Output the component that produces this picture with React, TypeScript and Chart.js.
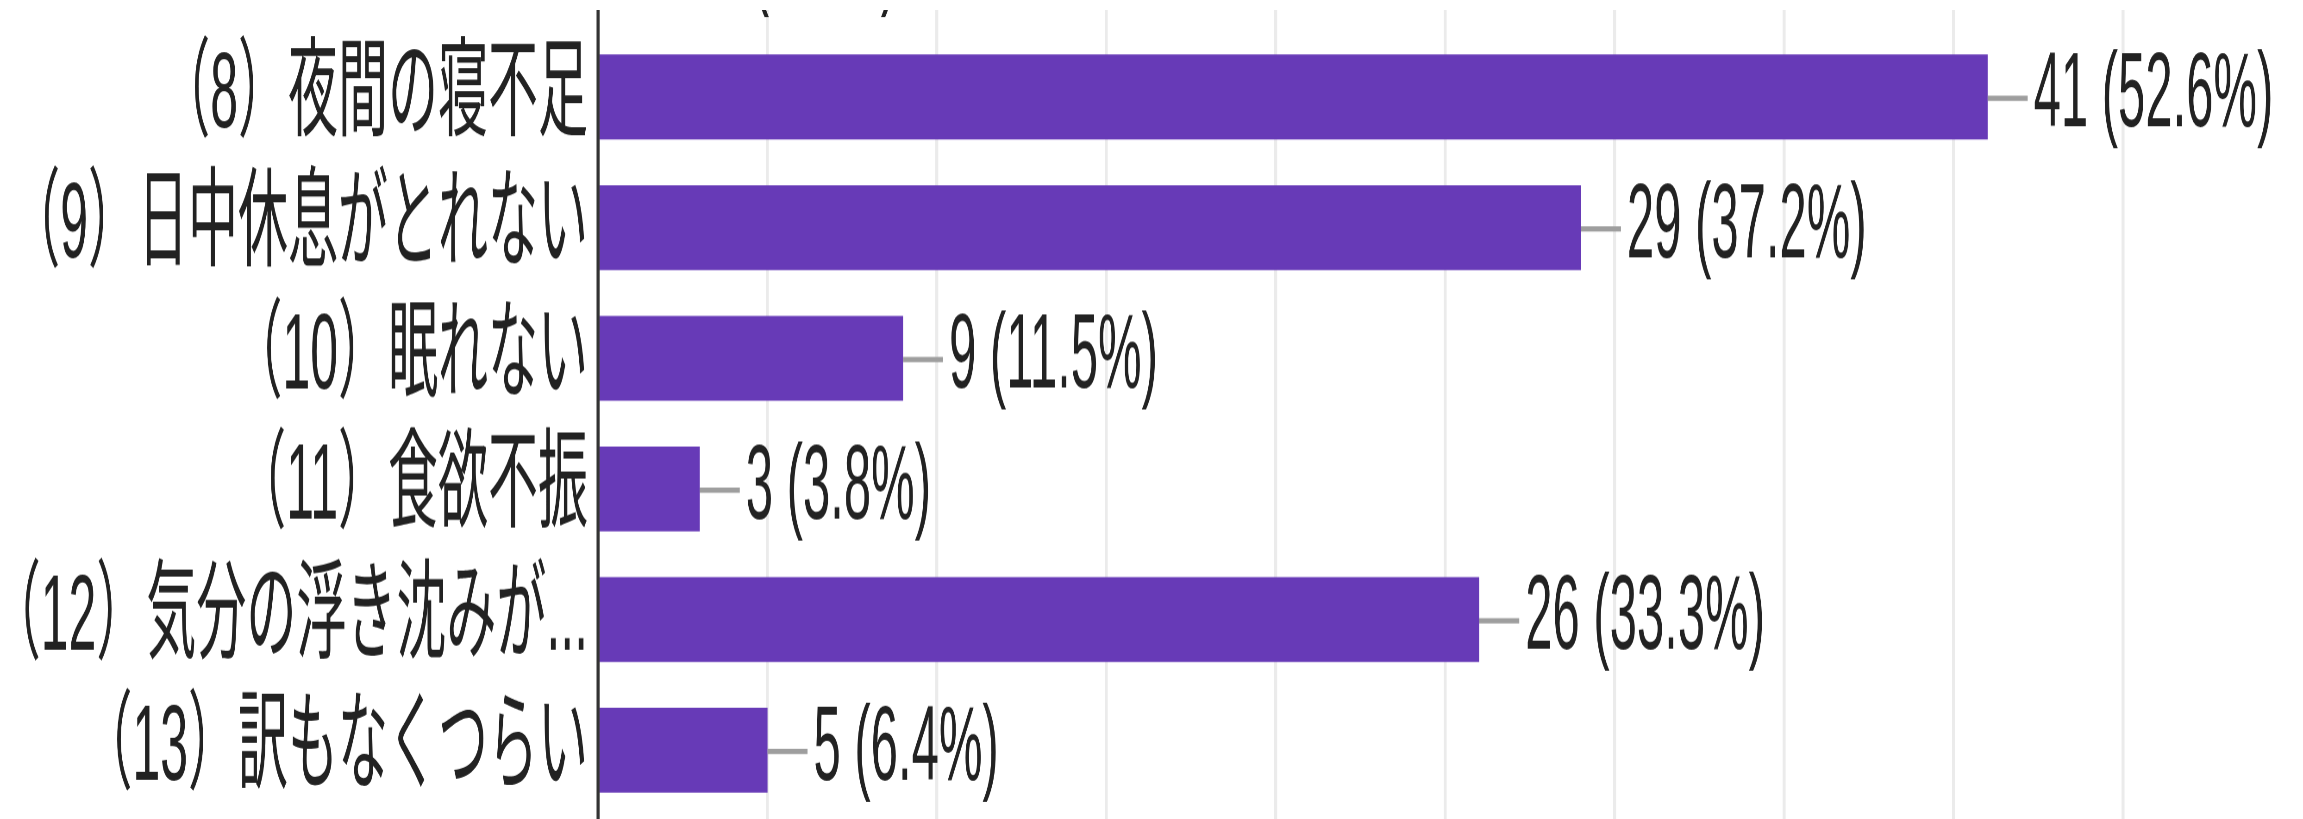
import React, { useEffect, useRef } from "react";
import { Chart, registerables } from "chart.js";

Chart.register(...registerables);

// ---- data ----
const categories = [
  "（7）疲労感",
  "（8）夜間の寝不足",
  "（9）日中休息がとれない",
  "（10）眠れない",
  "（11）食欲不振",
  "（12）気分の浮き沈みが...",
  "（13）訳もなくつらい",
];
const counts = [2, 41, 29, 9, 3, 26, 5];
const percents = ["2.6", "52.6", "37.2", "11.5", "3.8", "33.3", "6.4"];
const xMin = 0;
const xMax = 45;
const xStep = 5;

// ---- layout / style ----
const VIEW_W = 2303;
const VIEW_H = 819;
const SY = 2.16; // vertical stretch of the reference picture
const CANVAS_W = 2303;
const CANVAS_H = 443;
const OFFSET_TOP = 99.5;
const FONT = "'Liberation Sans', Arial, 'Noto Sans CJK JP', sans-serif";
const FONT_SIZE = 49;
const LABEL_FONT_SIZE = 50;
const BAR_COLOR = "#673ab7";
const TEXT_COLOR = "#222222";

export default function App() {
  const ref = useRef<HTMLCanvasElement>(null);

  useEffect(() => {
    const canvas = ref.current;
    if (!canvas) return;

    const axisLine = {
      id: "axisLine",
      afterDatasetsDraw(chart: any) {
        const { ctx, chartArea } = chart;
        const x = chart.scales.x.getPixelForValue(0);
        ctx.save();
        ctx.strokeStyle = "#333333";
        ctx.lineWidth = 3;
        ctx.beginPath();
        ctx.moveTo(x, chartArea.top);
        ctx.lineTo(x, chart.height);
        ctx.stroke();
        ctx.restore();
      },
    };

    const valueLabels = {
      id: "valueLabels",
      afterDatasetsDraw(chart: any) {
        const { ctx } = chart;
        const meta = chart.getDatasetMeta(0);
        ctx.save();
        meta.data.forEach((bar: any, i: number) => {
          const x = bar.x;
          const y = bar.y;
          ctx.strokeStyle = "#9e9e9e";
          ctx.lineWidth = 2.4;
          ctx.beginPath();
          ctx.moveTo(x, y + 0.6);
          ctx.lineTo(x + 40, y + 0.6);
          ctx.stroke();
          ctx.fillStyle = TEXT_COLOR;
          ctx.font = `${FONT_SIZE}px ${FONT}`;
          ctx.textAlign = "left";
          ctx.textBaseline = "middle";
          ctx.fillText(`${counts[i]} (${percents[i]}%)`, x + 46, y);
        });
        ctx.restore();
      },
    };

    const chart = new Chart(canvas, {
      type: "bar",
      data: {
        labels: categories,
        datasets: [
          {
            data: counts,
            backgroundColor: BAR_COLOR,
            borderWidth: 0,
            categoryPercentage: 1,
            barPercentage: 0.65,
          },
        ],
      },
      options: {
        indexAxis: "y",
        responsive: false,
        animation: false,
        devicePixelRatio: SY,
        layout: { padding: { top: 0, right: CANVAS_W - 2123, bottom: 0, left: 0 } },
        plugins: {
          legend: { display: false },
          tooltip: { enabled: false },
        },
        scales: {
          x: {
            type: "linear",
            position: "bottom",
            min: xMin,
            max: xMax,
            ticks: { display: false, stepSize: xStep },
            grid: {
              color: "#ebebeb",
              lineWidth: 3,
              drawTicks: true,
              tickLength: 20,
            },
            border: { display: false },
            afterFit(scale: any) {
              scale.height = 20;
              scale.paddingLeft = 0;
              scale.paddingRight = 0;
            },
          },
          y: {
            type: "category",
            position: "left",
            grid: { display: false, drawTicks: false },
            border: { display: false },
            ticks: {
              autoSkip: false,
              color: TEXT_COLOR,
              padding: 10,
              font: { family: FONT, size: LABEL_FONT_SIZE },
            },
            afterFit(scale: any) {
              scale.width = 598;
              scale.paddingTop = 0;
              scale.paddingBottom = 0;
            },
          },
        },
      },
      plugins: [axisLine, valueLabels],
    } as any);

    return () => chart.destroy();
  }, []);

  return (
    <div
      style={{
        position: "fixed",
        left: 0,
        top: 0,
        width: VIEW_W,
        height: VIEW_H,
        overflow: "hidden",
        background: "#ffffff",
      }}
    >
      <div
        style={{
          position: "absolute",
          left: 0,
          top: -OFFSET_TOP,
          transform: `scaleY(${SY})`,
          transformOrigin: "0 0",
        }}
      >
        <canvas ref={ref} width={CANVAS_W} height={CANVAS_H} style={{ display: "block" }} />
      </div>
      <div
        style={{
          position: "absolute",
          left: 0,
          top: 0,
          width: VIEW_W,
          height: 10,
          background: "#ffffff",
        }}
      />
    </div>
  );
}
